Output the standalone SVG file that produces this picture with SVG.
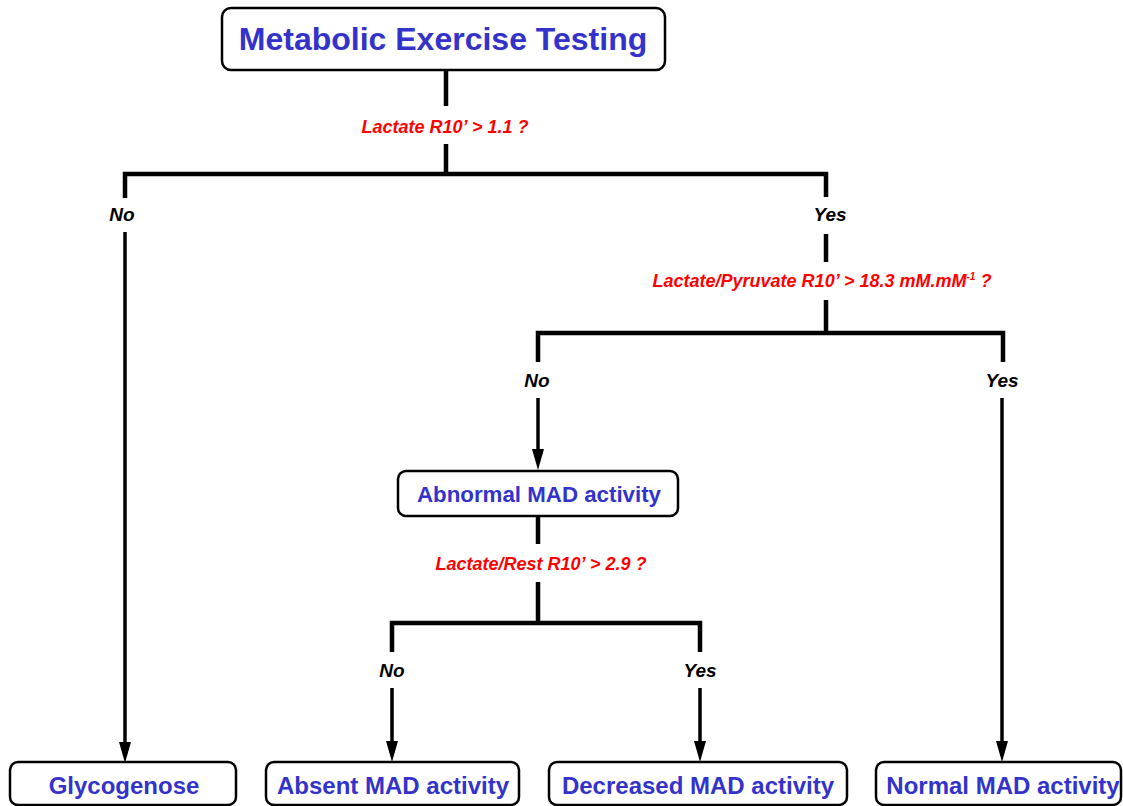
<svg xmlns="http://www.w3.org/2000/svg" width="1123" height="806" viewBox="0 0 1123 806">
<style>
.box{fill:#fff;stroke:#000;stroke-width:2.5}
.nt{font-family:"Liberation Sans",Arial,sans-serif;font-weight:bold;fill:#3333cc;text-anchor:middle;font-size:24px}
.q{font-family:"Liberation Sans",Arial,sans-serif;font-weight:bold;font-style:italic;fill:#ff0000;text-anchor:middle;font-size:18px}
.yn{font-family:"Liberation Sans",Arial,sans-serif;font-weight:bold;font-style:italic;fill:#000;text-anchor:middle;font-size:19px}
.ln{fill:none;stroke:#000;stroke-width:4.5;stroke-linejoin:miter;stroke-linecap:butt}
.sh{fill:none;stroke:#000;stroke-width:3.5}
</style>
<rect width="1123" height="806" fill="#fff"/>
<g id="connectors">
<path class="ln" d="M446,70 V106"/>
<path class="ln" d="M446,144 V174"/>
<path class="ln" d="M125,198 V174 H826 V197"/>
<path class="ln" d="M826,234 V262"/>
<path class="ln" d="M826,300 V333"/>
<path class="ln" d="M538,362 V333 H1003 V362"/>
<path class="ln" d="M538,516 V544"/>
<path class="ln" d="M538,582 V623"/>
<path class="ln" d="M392,652 V623 H700 V652"/>
<path class="sh" d="M125,232 V742"/>
<path d="M119,742 L131,742 L125,763 Z"/>
<path class="sh" d="M538,398 V449"/>
<path d="M532,449 L544,449 L538,470 Z"/>
<path class="sh" d="M392,688 V741"/>
<path d="M386,741 L398,741 L392,762 Z"/>
<path class="sh" d="M700,688 V741"/>
<path d="M694,741 L706,741 L700,762 Z"/>
<path class="sh" d="M1002,398 V741"/>
<path d="M996,741 L1008,741 L1002,762 Z"/>
<text class="q" x="445" y="133">Lactate R10’ &gt; 1.1 ?</text>
<text class="yn" x="122" y="221">No</text>
<text class="yn" x="830" y="221">Yes</text>
<text class="q" x="822" y="287">Lactate/Pyruvate R10’ &gt; 18.3 mM.mM<tspan font-size="10" dy="-7">-1</tspan><tspan dy="7"> ?</tspan></text>
<text class="yn" x="537" y="387">No</text>
<text class="yn" x="1002" y="387">Yes</text>
<text class="q" x="541" y="570">Lactate/Rest R10’ &gt; 2.9 ?</text>
<text class="yn" x="392" y="677">No</text>
<text class="yn" x="700" y="677">Yes</text>
</g>
<g id="n-metabolic">
<rect class="box" x="222" y="8" width="443" height="62" rx="9"/>
<text class="nt" x="443" y="50" style="font-size:32px">Metabolic Exercise Testing</text>
</g>
<g id="n-abnormal">
<rect class="box" x="398" y="471" width="280" height="45" rx="8"/>
<text class="nt" x="539" y="502" style="font-size:22.3px">Abnormal MAD activity</text>
</g>
<g id="n-glycogenose">
<rect class="box" x="10" y="762" width="226" height="43" rx="8"/>
<text class="nt" x="124" y="794">Glycogenose</text>
</g>
<g id="n-absent">
<rect class="box" x="266" y="762" width="253" height="43" rx="8"/>
<text class="nt" x="393" y="794">Absent MAD activity</text>
</g>
<g id="n-decreased">
<rect class="box" x="549" y="762" width="298" height="43" rx="8"/>
<text class="nt" x="698" y="794">Decreased MAD activity</text>
</g>
<g id="n-normal">
<rect class="box" x="876" y="762" width="245" height="43" rx="8"/>
<text class="nt" x="1003" y="794">Normal MAD activity</text>
</g>
</svg>
